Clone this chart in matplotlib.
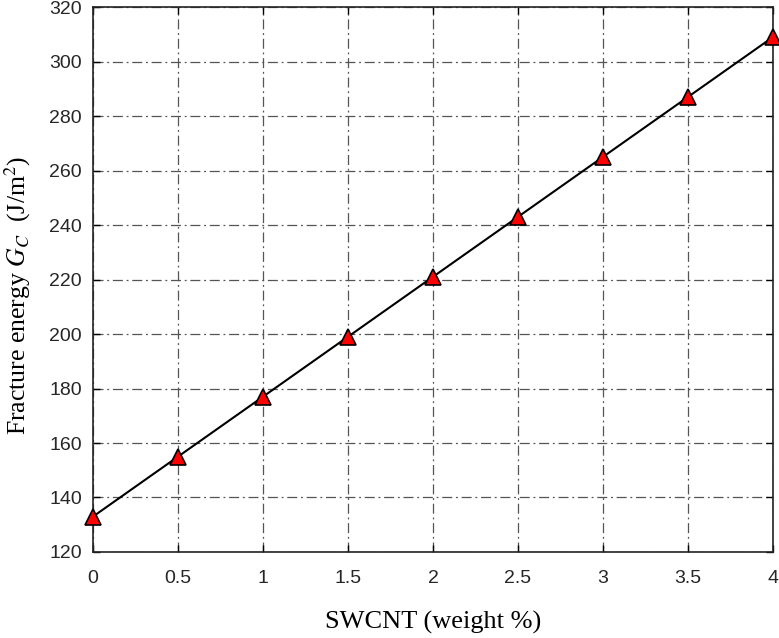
import matplotlib
matplotlib.use("Agg")
import matplotlib.pyplot as plt

# SWCNT content (weight %) and fracture energy G_C (J/m^2)
swcnt = [0, 0.5, 1, 1.5, 2, 2.5, 3, 3.5, 4]
fracture_energy = [133, 155, 177, 199, 221, 243, 265, 287, 309]
x_ticks = [0, 0.5, 1, 1.5, 2, 2.5, 3, 3.5, 4]
x_tick_labels = ["0", "0.5", "1", "1.5", "2", "2.5", "3", "3.5", "4"]
y_ticks = [120, 140, 160, 180, 200, 220, 240, 260, 280, 300, 320]

plt.rcParams["mathtext.fontset"] = "stix"

fig = plt.figure(figsize=(7.79, 6.38), dpi=100)
ax = fig.add_axes([0.1194, 0.1348, 0.8729, 0.8542])

ax.plot(swcnt, fracture_energy, color="black", linewidth=1.5,
        marker="^", markersize=11, markerfacecolor="red",
        markeredgecolor="black", markeredgewidth=1.2, zorder=3, clip_on=False)

ax.set_xlim(0, 4)
ax.set_ylim(120, 320)
ax.set_xticks(x_ticks)
ax.set_xticklabels(x_tick_labels)
ax.set_yticks(y_ticks)

ax.grid(True, color="#555555", linestyle=(0, (8, 3, 1.5, 3)), linewidth=0.9)
ax.tick_params(direction="in", length=5, width=1, top=True, right=True,
               labelsize=14)
ax.tick_params(axis="x", pad=13)
ax.tick_params(axis="y", pad=8)
for lbl in ax.get_xticklabels() + ax.get_yticklabels():
    lbl.set_fontfamily("Liberation Sans")
    lbl.set_color("#262626")
for sp in ax.spines.values():
    sp.set_linewidth(1.2)
    sp.set_color("#222222")

ax.set_xlabel("SWCNT (weight %)", fontsize=19, family="Liberation Serif")
ax.set_ylabel(r"Fracture energy $G_C$  (J/m$^2$)", fontsize=18.5,
              family="Liberation Serif")
ax.xaxis.set_label_coords(0.5, -0.108)
ax.yaxis.set_label_coords(-0.088, 0.47)

fig.savefig("out.png", dpi=100)
